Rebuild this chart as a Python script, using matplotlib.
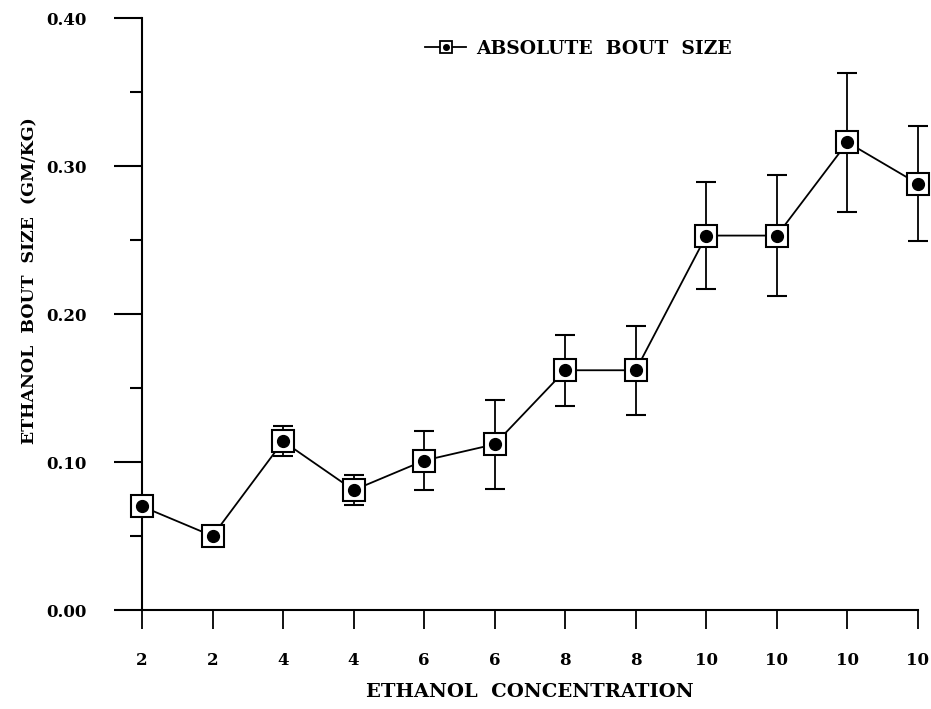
import numpy as np
import matplotlib.pyplot as plt
from matplotlib.lines import Line2D

concentration = ['2', '2', '4', '4', '6', '6', '8', '8', '10', '10', '10', '10']
bout_size = [0.070, 0.050, 0.114, 0.081, 0.101, 0.112, 0.162, 0.162, 0.253, 0.253, 0.316, 0.288]
bout_err = [0.004, 0.004, 0.010, 0.010, 0.020, 0.030, 0.024, 0.030, 0.036, 0.041, 0.047, 0.039]

plt.rcParams['font.family'] = 'DejaVu Serif'
plt.rcParams['font.weight'] = 'bold'

fig = plt.figure(figsize=(9.31, 7.09), dpi=100)
ax = fig.add_axes([0.1525, 0.1396, 0.8335, 0.835])

x = np.arange(len(bout_size))
ax.errorbar(x, bout_size, yerr=bout_err, fmt='none', ecolor='black',
            elinewidth=1.3, capsize=7, capthick=1.5, zorder=1, clip_on=False)
ax.plot(x, bout_size, color='black', lw=1.3, zorder=2, clip_on=False)
ax.plot(x, bout_size, ls='none', marker='s', ms=16, mfc='white', mec='black',
        mew=1.5, zorder=3, clip_on=False)
ax.plot(x, bout_size, ls='none', marker='o', ms=8.5, color='black', zorder=4, clip_on=False)

ax.set_xlim(0, 11)
ax.set_ylim(0, 0.40)
ax.set_xticks(x)
ax.set_xticklabels(concentration)
ax.set_yticks([0.0, 0.1, 0.2, 0.3, 0.4])
ax.set_yticklabels(['0.00', '0.10', '0.20', '0.30', '0.40'])
ax.set_yticks(np.arange(0.05, 0.4, 0.1), minor=True)

for s in ['top', 'right']:
    ax.spines[s].set_visible(False)
for s in ['left', 'bottom']:
    ax.spines[s].set_linewidth(1.5)

ax.tick_params(axis='y', which='major', direction='out', length=20, width=1.5,
               pad=20, labelsize=12)
ax.tick_params(axis='y', which='minor', direction='out', length=9, width=1.5)
ax.tick_params(axis='x', direction='out', length=14, width=1.3, pad=16, labelsize=12)
for lab in ax.get_xticklabels() + ax.get_yticklabels():
    lab.set_fontweight('bold')

ax.set_xlabel('ETHANOL  CONCENTRATION', fontsize=14, fontweight='bold', labelpad=10)
ax.set_ylabel('ETHANOL  BOUT  SIZE  (GM/KG)', fontsize=12.5, fontweight='bold')
ax.yaxis.set_label_coords(-0.133, 0.557)

sq = Line2D([], [], color='black', lw=1.3, marker='s', ms=9, mfc='white', mec='black', mew=1.3)
dot = Line2D([], [], ls='none', marker='o', ms=4, color='black')
ax.legend([(sq, dot)], ['ABSOLUTE  BOUT  SIZE'], loc='center left',
          bbox_to_anchor=(0.343, 0.948), frameon=False, handlelength=2.2,
          handletextpad=0.5, prop={'weight': 'bold', 'size': 13.5})

fig.savefig('out.png', dpi=100)
